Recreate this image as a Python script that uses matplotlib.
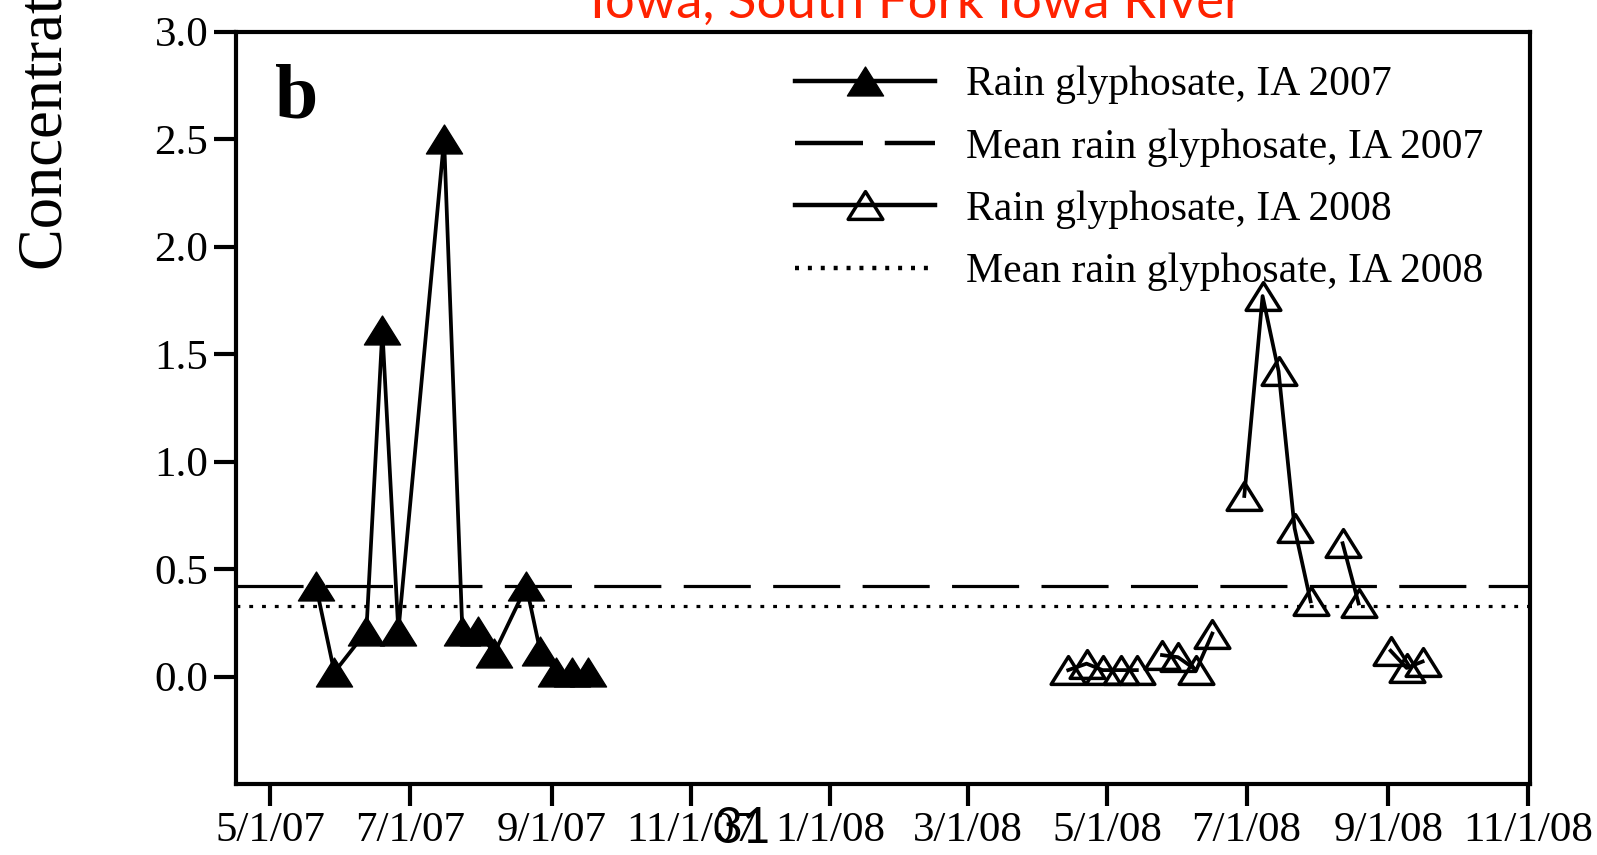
import matplotlib
matplotlib.use("Agg")
import matplotlib.pyplot as plt
import matplotlib.dates as mdates
from matplotlib.lines import Line2D
from matplotlib.path import Path
import pandas as pd

# ---------------------------------------------------------
# Rain glyphosate, Iowa (South Fork Iowa River)
# ---------------------------------------------------------
dates_2007 = ["2007-05-21", "2007-05-29", "2007-06-12", "2007-06-19", "2007-06-26",
              "2007-07-16", "2007-07-24", "2007-07-31", "2007-08-07", "2007-08-21",
              "2007-08-27", "2007-09-03", "2007-09-10", "2007-09-17"]
conc_2007 = [0.42, 0.02, 0.21, 1.61, 0.21, 2.50, 0.21, 0.21, 0.11, 0.42,
             0.12, 0.02, 0.02, 0.02]

dates_2008 = ["2008-04-14", "2008-04-22", "2008-04-29", "2008-05-07", "2008-05-14",
              "2008-05-25", "2008-06-01", "2008-06-09", "2008-06-16",
              "2008-06-30", "2008-07-08", "2008-07-15", "2008-07-22", "2008-07-29",
              "2008-08-12", "2008-08-19",
              "2008-09-02", "2008-09-09", "2008-09-16"]
conc_2008 = [0.03, 0.06, 0.03, 0.03, 0.03,
             0.10, 0.09, 0.03, 0.20,
             0.84, 1.77, 1.42, 0.69, 0.35,
             0.62, 0.34,
             0.12, 0.04, 0.07]
# consecutive samples are joined, gaps split the line
run_2008 = [0, 0, 0, 0, 0,
            1, 1, 1, 1,
            2, 2, 2, 2, 2,
            3, 3,
            4, 4, 4]

mean_2007 = 0.42
mean_2008 = 0.33

tick_dates = ["2007-05-01", "2007-07-01", "2007-09-01", "2007-11-01", "2008-01-01",
              "2008-03-01", "2008-05-01", "2008-07-01", "2008-09-01", "2008-11-01"]
tick_labels = ["5/1/07", "7/1/07", "9/1/07", "11/1/07", "1/1/08",
               "3/1/08", "5/1/08", "7/1/08", "9/1/08", "11/1/08"]
y_ticks = [0.0, 0.5, 1.0, 1.5, 2.0, 2.5, 3.0]

plt.rcParams['font.family'] = ['Liberation Serif', 'DejaVu Serif']

x07 = mdates.date2num(pd.to_datetime(dates_2007))
x08 = mdates.date2num(pd.to_datetime(dates_2008))

# wide triangle marker (closed so the open version gets a full outline)
tri = Path([(0, 0.8), (-1, -0.8), (1, -0.8), (0, 0.8)], closed=True)
LW = 2.7
MS = 26

fig = plt.figure(figsize=(15.97, 8.55), dpi=100)
ax = fig.add_axes([0.1478, 0.0830, 0.8103, 0.8800])

ax.axhline(mean_2007, color="black", lw=2.3, dashes=(21, 7), zorder=2)
ax.axhline(mean_2008, color="black", lw=2.3, dashes=(1.2, 2.8), zorder=2)

ax.plot(x07, conc_2007, color="black", lw=LW, marker=tri, ms=MS,
        mfc="black", mec="black", mew=1, zorder=3)

for run in sorted(set(run_2008)):
    idx = [i for i, r in enumerate(run_2008) if r == run]
    ax.plot([x08[i] for i in idx], [conc_2008[i] for i in idx],
            color="black", lw=LW, marker=tri, ms=MS - 1,
            mfc="none", mec="black", mew=2.5, zorder=3)

ax.set_xlim(mdates.date2num(pd.Timestamp("2007-04-16")),
            mdates.date2num(pd.Timestamp("2008-11-02")))
ax.set_ylim(-0.5, 3.0)

ax.set_xticks(mdates.date2num(pd.to_datetime(tick_dates)))
ax.set_xticklabels(tick_labels)
ax.set_yticks(y_ticks)
ax.set_yticklabels([f"{v:.1f}" for v in y_ticks])

ax.tick_params(direction="out", length=16, width=3, labelsize=31, pad=4,
               top=False, right=False)
for sp in ax.spines.values():
    sp.set_linewidth(3)

# panel letter
fig.text(0.172, 0.863, "b", fontsize=56, fontweight="bold", va="baseline")

LEG_LW = 3.2
handles = [
    Line2D([], [], color="black", lw=LEG_LW, marker=tri, ms=MS, mfc="black",
           mec="black"),
    Line2D([], [], color="black", lw=LEG_LW, dashes=(15.3, 4.9)),
    Line2D([], [], color="black", lw=LEG_LW, marker=tri, ms=MS - 1, mfc="none",
           mec="black", mew=2.5),
    Line2D([], [], color="black", lw=LEG_LW, dashes=(0.9, 2.0)),
]
labels = ["Rain glyphosate, IA 2007", "Mean rain glyphosate, IA 2007",
          "Rain glyphosate, IA 2008", "Mean rain glyphosate, IA 2008"]
fig.legend(handles, labels, loc="upper left", bbox_to_anchor=(795 / 1597, 1 - 66 / 855),
           frameon=False, fontsize=30, handlelength=3.35, handletextpad=0.75,
           labelspacing=0.57, borderpad=0, borderaxespad=0, numpoints=1)

fig.text(47 / 1597, 1 - 270 / 855, "Concentration, in micrograms per liter",
         rotation=90, ha="center", va="bottom", fontsize=45)

fig.text(917 / 1597, 1 - 18 / 855, "Iowa, South Fork Iowa River", ha="center",
         va="baseline", color="#ff2200", fontsize=38, family=["Lato", "DejaVu Sans"])

fig.text(743 / 1597, 1 - 843 / 855, "31", ha="center", va="baseline",
         fontsize=36, family=["Lato", "DejaVu Sans"])

fig.savefig("out.png", dpi=100, facecolor="white")
